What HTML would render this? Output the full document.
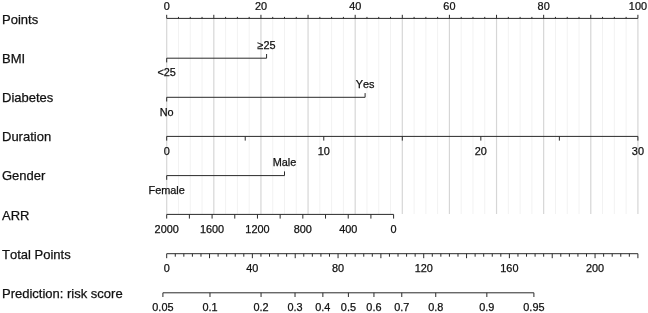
<!DOCTYPE html><html><head><meta charset="utf-8"><title>Nomogram</title><style>html,body{margin:0;padding:0;background:#fff}svg{display:block}text{font-kerning:none;font-family:"Liberation Sans",Arial,sans-serif;fill:#111;stroke:#111;stroke-width:0.25px}.lab{font-size:13px}.t{font-size:10.9px;text-anchor:middle}.ax{stroke:#2a2a2a;stroke-width:1;fill:none}</style></head><body>
<svg width="648" height="313" viewBox="0 0 648 313">
<rect width="648" height="313" fill="#fff"/>
<line x1="166.70" y1="18.5" x2="166.70" y2="214" stroke="#d6d6d6" stroke-width="1.2"/>
<line x1="178.48" y1="18.5" x2="178.48" y2="214" stroke="#f2f2f2" stroke-width="1"/>
<line x1="190.26" y1="18.5" x2="190.26" y2="214" stroke="#f2f2f2" stroke-width="1"/>
<line x1="202.04" y1="18.5" x2="202.04" y2="214" stroke="#f2f2f2" stroke-width="1"/>
<line x1="213.82" y1="18.5" x2="213.82" y2="214" stroke="#d6d6d6" stroke-width="1.2"/>
<line x1="225.60" y1="18.5" x2="225.60" y2="214" stroke="#f2f2f2" stroke-width="1"/>
<line x1="237.38" y1="18.5" x2="237.38" y2="214" stroke="#f2f2f2" stroke-width="1"/>
<line x1="249.16" y1="18.5" x2="249.16" y2="214" stroke="#f2f2f2" stroke-width="1"/>
<line x1="260.94" y1="18.5" x2="260.94" y2="214" stroke="#d6d6d6" stroke-width="1.2"/>
<line x1="272.72" y1="18.5" x2="272.72" y2="214" stroke="#f2f2f2" stroke-width="1"/>
<line x1="284.50" y1="18.5" x2="284.50" y2="214" stroke="#f2f2f2" stroke-width="1"/>
<line x1="296.28" y1="18.5" x2="296.28" y2="214" stroke="#f2f2f2" stroke-width="1"/>
<line x1="308.06" y1="18.5" x2="308.06" y2="214" stroke="#d6d6d6" stroke-width="1.2"/>
<line x1="319.84" y1="18.5" x2="319.84" y2="214" stroke="#f2f2f2" stroke-width="1"/>
<line x1="331.62" y1="18.5" x2="331.62" y2="214" stroke="#f2f2f2" stroke-width="1"/>
<line x1="343.40" y1="18.5" x2="343.40" y2="214" stroke="#f2f2f2" stroke-width="1"/>
<line x1="355.18" y1="18.5" x2="355.18" y2="214" stroke="#d6d6d6" stroke-width="1.2"/>
<line x1="366.96" y1="18.5" x2="366.96" y2="214" stroke="#f2f2f2" stroke-width="1"/>
<line x1="378.74" y1="18.5" x2="378.74" y2="214" stroke="#f2f2f2" stroke-width="1"/>
<line x1="390.52" y1="18.5" x2="390.52" y2="214" stroke="#f2f2f2" stroke-width="1"/>
<line x1="402.30" y1="18.5" x2="402.30" y2="214" stroke="#d6d6d6" stroke-width="1.2"/>
<line x1="414.08" y1="18.5" x2="414.08" y2="214" stroke="#f2f2f2" stroke-width="1"/>
<line x1="425.86" y1="18.5" x2="425.86" y2="214" stroke="#f2f2f2" stroke-width="1"/>
<line x1="437.64" y1="18.5" x2="437.64" y2="214" stroke="#f2f2f2" stroke-width="1"/>
<line x1="449.42" y1="18.5" x2="449.42" y2="214" stroke="#d6d6d6" stroke-width="1.2"/>
<line x1="461.20" y1="18.5" x2="461.20" y2="214" stroke="#f2f2f2" stroke-width="1"/>
<line x1="472.98" y1="18.5" x2="472.98" y2="214" stroke="#f2f2f2" stroke-width="1"/>
<line x1="484.76" y1="18.5" x2="484.76" y2="214" stroke="#f2f2f2" stroke-width="1"/>
<line x1="496.54" y1="18.5" x2="496.54" y2="214" stroke="#d6d6d6" stroke-width="1.2"/>
<line x1="508.32" y1="18.5" x2="508.32" y2="214" stroke="#f2f2f2" stroke-width="1"/>
<line x1="520.10" y1="18.5" x2="520.10" y2="214" stroke="#f2f2f2" stroke-width="1"/>
<line x1="531.88" y1="18.5" x2="531.88" y2="214" stroke="#f2f2f2" stroke-width="1"/>
<line x1="543.66" y1="18.5" x2="543.66" y2="214" stroke="#d6d6d6" stroke-width="1.2"/>
<line x1="555.44" y1="18.5" x2="555.44" y2="214" stroke="#f2f2f2" stroke-width="1"/>
<line x1="567.22" y1="18.5" x2="567.22" y2="214" stroke="#f2f2f2" stroke-width="1"/>
<line x1="579.00" y1="18.5" x2="579.00" y2="214" stroke="#f2f2f2" stroke-width="1"/>
<line x1="590.78" y1="18.5" x2="590.78" y2="214" stroke="#d6d6d6" stroke-width="1.2"/>
<line x1="602.56" y1="18.5" x2="602.56" y2="214" stroke="#f2f2f2" stroke-width="1"/>
<line x1="614.34" y1="18.5" x2="614.34" y2="214" stroke="#f2f2f2" stroke-width="1"/>
<line x1="626.12" y1="18.5" x2="626.12" y2="214" stroke="#f2f2f2" stroke-width="1"/>
<line x1="637.90" y1="18.5" x2="637.90" y2="214" stroke="#d6d6d6" stroke-width="1.2"/>
<text class="lab" x="2" y="24">Points</text>
<text class="lab" x="2" y="62.7">BMI</text>
<text class="lab" x="2" y="101.7">Diabetes</text>
<text class="lab" x="2" y="141.1">Duration</text>
<text class="lab" x="2" y="180.4">Gender</text>
<text class="lab" x="2" y="219.7">ARR</text>
<text class="lab" x="2" y="258.6">Total Points</text>
<text class="lab" x="2" y="297.6">Prediction: risk score</text>
<path class="ax" d="M166.70 18.4H637.90M166.70 18.4V14.799999999999999M178.48 18.4V16.9M190.26 18.4V16.9M202.04 18.4V16.9M213.82 18.4V14.799999999999999M225.60 18.4V16.9M237.38 18.4V16.9M249.16 18.4V16.9M260.94 18.4V14.799999999999999M272.72 18.4V16.9M284.50 18.4V16.9M296.28 18.4V16.9M308.06 18.4V14.799999999999999M319.84 18.4V16.9M331.62 18.4V16.9M343.40 18.4V16.9M355.18 18.4V14.799999999999999M366.96 18.4V16.9M378.74 18.4V16.9M390.52 18.4V16.9M402.30 18.4V14.799999999999999M414.08 18.4V16.9M425.86 18.4V16.9M437.64 18.4V16.9M449.42 18.4V14.799999999999999M461.20 18.4V16.9M472.98 18.4V16.9M484.76 18.4V16.9M496.54 18.4V14.799999999999999M508.32 18.4V16.9M520.10 18.4V16.9M531.88 18.4V16.9M543.66 18.4V14.799999999999999M555.44 18.4V16.9M567.22 18.4V16.9M579.00 18.4V16.9M590.78 18.4V14.799999999999999M602.56 18.4V16.9M614.34 18.4V16.9M626.12 18.4V16.9M637.90 18.4V14.799999999999999"/>
<text class="t" transform="translate(166.70 9.5) scale(1 0.93)">0</text>
<text class="t" transform="translate(260.94 9.5) scale(1 0.93)">20</text>
<text class="t" transform="translate(355.18 9.5) scale(1 0.93)">40</text>
<text class="t" transform="translate(449.42 9.5) scale(1 0.93)">60</text>
<text class="t" transform="translate(543.66 9.5) scale(1 0.93)">80</text>
<text class="t" transform="translate(637.90 9.5) scale(1 0.93)">100</text>
<path class="ax" d="M166.70 62.400000000000006V58.2H266.59V54.0"/>
<text class="t" x="166.70" y="76">&lt;25</text>
<text class="t" x="266.59" y="48.6">≥25</text>
<path class="ax" d="M166.70 101.5V97.3H365.10V93.1"/>
<text class="t" x="166.70" y="115.8">No</text>
<text class="t" x="365.10" y="88">Yes</text>
<path class="ax" d="M166.70 136.4H637.90M166.70 136.4V140.6M245.23 136.4V140.6M323.77 136.4V140.6M402.30 136.4V140.6M480.83 136.4V140.6M559.37 136.4V140.6M637.90 136.4V140.6"/>
<text class="t" x="166.70" y="154.6">0</text>
<text class="t" x="323.77" y="154.6">10</text>
<text class="t" x="480.83" y="154.6">20</text>
<text class="t" x="637.90" y="154.6">30</text>
<path class="ax" d="M166.70 179.79999999999998V175.6H284.50V171.4"/>
<text class="t" x="166.70" y="193.6">Female</text>
<text class="t" x="284.50" y="166">Male</text>
<path class="ax" d="M166.70 214.4H393.60M166.70 214.4V218.6M189.39 214.4V218.6M212.08 214.4V218.6M234.77 214.4V218.6M257.46 214.4V218.6M280.15 214.4V218.6M302.84 214.4V218.6M325.53 214.4V218.6M348.22 214.4V218.6M370.91 214.4V218.6M393.60 214.4V218.6"/>
<text class="t" x="166.70" y="232.9">2000</text>
<text class="t" x="212.08" y="232.9">1600</text>
<text class="t" x="257.46" y="232.9">1200</text>
<text class="t" x="302.84" y="232.9">800</text>
<text class="t" x="348.22" y="232.9">400</text>
<text class="t" x="393.60" y="232.9">0</text>
<path class="ax" d="M166.70 253.7H637.90M166.70 253.7V258.2M175.27 253.7V256.7M183.83 253.7V256.7M192.40 253.7V256.7M200.97 253.7V256.7M209.54 253.7V258.2M218.10 253.7V256.7M226.67 253.7V256.7M235.24 253.7V256.7M243.81 253.7V256.7M252.37 253.7V258.2M260.94 253.7V256.7M269.51 253.7V256.7M278.07 253.7V256.7M286.64 253.7V256.7M295.21 253.7V258.2M303.78 253.7V256.7M312.34 253.7V256.7M320.91 253.7V256.7M329.48 253.7V256.7M338.05 253.7V258.2M346.61 253.7V256.7M355.18 253.7V256.7M363.75 253.7V256.7M372.31 253.7V256.7M380.88 253.7V258.2M389.45 253.7V256.7M398.02 253.7V256.7M406.58 253.7V256.7M415.15 253.7V256.7M423.72 253.7V258.2M432.29 253.7V256.7M440.85 253.7V256.7M449.42 253.7V256.7M457.99 253.7V256.7M466.55 253.7V258.2M475.12 253.7V256.7M483.69 253.7V256.7M492.26 253.7V256.7M500.82 253.7V256.7M509.39 253.7V258.2M517.96 253.7V256.7M526.53 253.7V256.7M535.09 253.7V256.7M543.66 253.7V256.7M552.23 253.7V258.2M560.79 253.7V256.7M569.36 253.7V256.7M577.93 253.7V256.7M586.50 253.7V256.7M595.06 253.7V258.2M603.63 253.7V256.7M612.20 253.7V256.7M620.77 253.7V256.7M629.33 253.7V256.7M637.90 253.7V258.2"/>
<text class="t" x="166.70" y="272.1">0</text>
<text class="t" x="252.37" y="272.1">40</text>
<text class="t" x="338.05" y="272.1">80</text>
<text class="t" x="423.72" y="272.1">120</text>
<text class="t" x="509.39" y="272.1">160</text>
<text class="t" x="595.06" y="272.1">200</text>
<path class="ax" d="M162.90 292.8H533.90M162.90 292.8V297.0M209.97 292.8V297.0M261.06 292.8V297.0M295.02 292.8V297.0M322.86 292.8V297.0M348.40 292.8V297.0M373.94 292.8V297.0M401.78 292.8V297.0M435.74 292.8V297.0M486.83 292.8V297.0M533.90 292.8V297.0"/>
<text class="t" x="162.90" y="311">0.05</text>
<text class="t" x="209.97" y="311">0.1</text>
<text class="t" x="261.06" y="311">0.2</text>
<text class="t" x="295.02" y="311">0.3</text>
<text class="t" x="322.86" y="311">0.4</text>
<text class="t" x="348.40" y="311">0.5</text>
<text class="t" x="373.94" y="311">0.6</text>
<text class="t" x="401.78" y="311">0.7</text>
<text class="t" x="435.74" y="311">0.8</text>
<text class="t" x="486.83" y="311">0.9</text>
<text class="t" x="533.90" y="311">0.95</text>
</svg></body></html>
